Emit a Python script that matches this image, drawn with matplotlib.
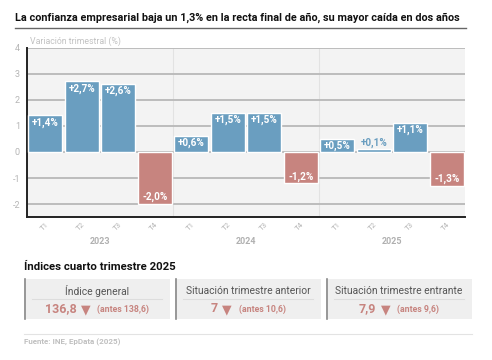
import matplotlib
matplotlib.use('Agg')
import matplotlib.pyplot as plt
from matplotlib.patches import Rectangle
from matplotlib.lines import Line2D

plt.rcParams['font.family'] = ['Roboto', 'DejaVu Sans']

# data
quarters = ['T1', 'T2', 'T3', 'T4'] * 3
years = ['2023', '2024', '2025']
values = [1.4, 2.7, 2.6, -2.0, 0.6, 1.5, 1.5, -1.2, 0.5, 0.1, 1.1, -1.3]
yticks = [-2, -1, 0, 1, 2, 3, 4]

card_titles = ['Índice general', 'Situación trimestre anterior', 'Situación trimestre entrante']
card_values = ['136,8', '7', '7,9']
card_before = ['(antes 138,6)', '(antes 10,6)', '(antes 9,6)']

BLUE = '#6a9ec0'
RED = '#c7847f'
W, H = 492, 360

def fx(px):
    return px / W

def fy(py):
    return 1 - py / H

fig = plt.figure(figsize=(4.92, 3.6), dpi=100)
renderer = fig.canvas.get_renderer()

# title + rule
fig.text(fx(15), fy(18), 'La confianza empresarial baja un 1,3% en la recta final de año, su mayor caída en dos años',
         fontsize=7.8, fontweight='bold', color='#111111', va='center', ha='left')
fig.add_artist(Line2D([fx(15), fx(466)], [fy(27.5), fy(27.5)], color='#666666', lw=1))

# chart
ax = fig.add_axes([fx(27), fy(217.3), fx(438), (217.3 - 47.5) / H])
ax.set_facecolor('#f3f3f3')
x = list(range(len(values)))
colors = [BLUE if v >= 0 else RED for v in values]
ax.bar(x, values, width=0.92, color=colors, edgecolor='white', linewidth=1, zorder=3)
ax.set_xlim(-0.5, len(values) - 0.5)
ax.set_ylim(-2.5, 4)
ax.set_yticks(yticks)
ax.set_yticklabels([str(t) for t in yticks])
ax.grid(axis='y', color='#b8b8b8', lw=1.3, zorder=1)
for xs in [3.5, 7.5]:
    ax.axvline(xs, color='#e2e2e2', lw=0.8, zorder=1)
for s in ['top', 'right']:
    ax.spines[s].set_visible(False)
for s in ['left', 'bottom']:
    ax.spines[s].set_color('#222222')
    ax.spines[s].set_linewidth(1.4)
ax.tick_params(axis='y', length=0, labelsize=6.5, labelcolor='#b5b5b5', pad=5)
ax.set_xticks(x)
ax.set_xticklabels(quarters, rotation=45, ha='right', rotation_mode='anchor')
ax.tick_params(axis='x', length=0, labelsize=5.6, labelcolor='#b5b5b5', pad=3)

for i, v in enumerate(values):
    lab = ('+' if v > 0 else '') + f'{v:.1f}'.replace('.', ',') + '%'
    if abs(v) < 0.3:
        ax.annotate(lab, (i, v), xytext=(0, 5), textcoords='offset points', ha='center', va='center',
                    fontsize=7.2, fontweight='bold', color=BLUE, zorder=4)
    else:
        off = -5 if v > 0 else 5
        ax.annotate(lab, (i, v), xytext=(0, off), textcoords='offset points', ha='center', va='center',
                    fontsize=7.2, fontweight='bold', color='white', zorder=4)

for k, yr in enumerate(years):
    ax.text(4 * k + 1.5, -0.14, yr, transform=ax.get_xaxis_transform(), ha='center', va='center',
            fontsize=6.5, fontweight='bold', color='#b0b0b0')

fig.text(fx(30), fy(41), 'Variación trimestral (%)', fontsize=6.3, color='#c2c2c2', va='center', ha='left')

# index cards
fig.text(fx(24), fy(267), 'Índices cuarto trimestre 2025', fontsize=8.2, fontweight='bold',
         color='#111111', va='center', ha='left')
boxes = [(24, 170), (175, 321), (326, 472)]
for (x0, x1), t, val, bef in zip(boxes, card_titles, card_values, card_before):
    fig.add_artist(Rectangle((fx(x0), fy(319)), fx(x1 - x0), (319 - 279) / H,
                             facecolor='#efefef', edgecolor='none'))
    fig.add_artist(Line2D([fx(x0 + 0.5), fx(x0 + 0.5)], [fy(279), fy(319)], color='#888888', lw=1.2))
    cx = (x0 + x1) / 2
    fig.text(fx(cx), fy(291), t, fontsize=7.4, color='#555555', ha='center', va='center')
    fig.add_artist(Line2D([fx(x0 + 8), fx(x1 - 8)], [fy(298.5), fy(298.5)], color='#dddddd', lw=0.8))
    # value line: value, triangle, previous -> centred as a group
    tv = fig.text(0, fy(309), val, fontsize=9, fontweight='bold', color=RED, ha='left', va='center')
    tb = fig.text(0, fy(309.5), bef, fontsize=6.3, fontweight='bold', color=RED, ha='left', va='center')
    w1 = tv.get_window_extent(renderer).width
    w2 = tb.get_window_extent(renderer).width
    tri_w = 11
    total = w1 + 4 + tri_w + 6 + w2
    start = cx - total / 2
    tv.set_x(fx(start))
    fig.text(fx(start + w1 + 4 + tri_w / 2), fy(309.5), '▼', fontsize=9, color=RED, ha='center',
             va='center', family=['DejaVu Sans'])
    tb.set_x(fx(start + w1 + 4 + tri_w + 6))

fig.add_artist(Line2D([fx(24), fx(472)], [fy(334), fy(334)], color='#e3e3e3', lw=0.8))
fig.text(fx(24), fy(342.5), 'Fuente: INE, EpData (2025)', fontsize=5.8, fontweight='bold',
         color='#c0c0c0', va='center', ha='left')

fig.savefig('out.png', dpi=100)
